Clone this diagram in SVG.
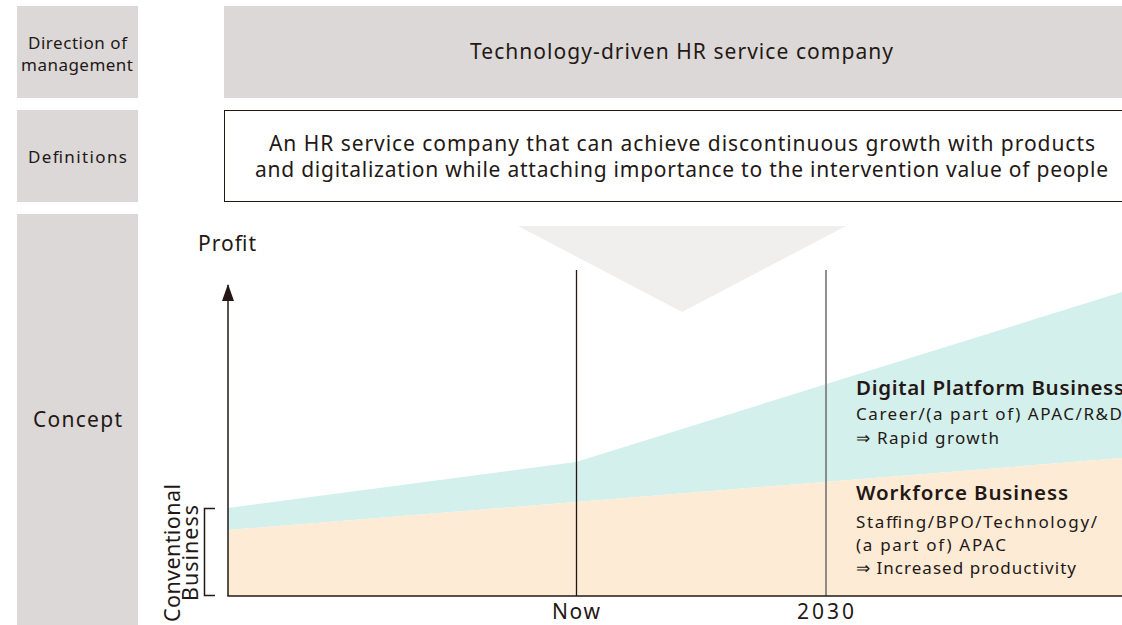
<svg xmlns="http://www.w3.org/2000/svg" width="1122" height="625" viewBox="0 0 1122 625">
<style>
text{font-family:"Noto Sans","Open Sans","Liberation Sans",sans-serif;fill:#231815}
.lab{font-size:17px;text-anchor:middle}
.big{font-size:21px;text-anchor:middle}
.hd{font-size:20.5px;font-weight:600}
.sm{font-size:17px}
.gray{fill:#dcd8d7}
.ax{stroke:#231815;stroke-width:1.5;fill:none}
</style>
<defs>
<marker id="arr" markerWidth="18" markerHeight="12" refX="16" refY="6" orient="auto" markerUnits="userSpaceOnUse">
<path d="M0,0 L17,6 L0,12 Z" fill="#231815"/>
</marker>
</defs>
<g id="row-direction">
<rect class="gray" x="17" y="6" width="121" height="92"/>
<text class="lab" x="77.5" y="49" textLength="99" lengthAdjust="spacing">Direction of</text>
<text class="lab" x="77" y="71" textLength="112" lengthAdjust="spacing">management</text>
<rect class="gray" x="224" y="6" width="898" height="92"/>
<text class="big" x="681.5" y="59" textLength="423" lengthAdjust="spacing">Technology-driven HR service company</text>
</g>
<g id="row-definitions">
<rect class="gray" x="17" y="110" width="121" height="92"/>
<text class="lab" x="77.5" y="163" textLength="99" lengthAdjust="spacing">Definitions</text>
<rect x="224.5" y="110.5" width="898" height="91" fill="#fff" stroke="#231815" stroke-width="1"/>
<text class="big" x="682" y="151" textLength="826" lengthAdjust="spacing">An HR service company that can achieve discontinuous growth with products</text>
<text class="big" x="681.5" y="177" textLength="853" lengthAdjust="spacing">and digitalization while attaching importance to the intervention value of people</text>
</g>
<g id="row-concept">
<rect class="gray" x="17" y="214" width="121" height="411"/>
<text class="big" x="77.5" y="427" textLength="89" lengthAdjust="spacing">Concept</text>
</g>
<g id="chart">
<polygon points="518,226 846,226 682,312" fill="#f0efed"/>
<polygon id="digital" points="228,508 576,462 1122,292 1122,458 228,530" fill="#d3f0ec"/>
<polygon id="workforce" points="228,530 1122,458 1122,596 228,596" fill="#fdebd6"/>
<line x1="576.5" y1="270" x2="576.5" y2="596" stroke="#231815" stroke-width="1.3"/>
<line x1="826" y1="270" x2="826" y2="596" stroke="#6e6a69" stroke-width="1.5"/>
<line class="ax" x1="228" y1="596" x2="228" y2="285" marker-end="url(#arr)"/>
<line class="ax" x1="227.3" y1="596" x2="1122" y2="596"/>
<path class="ax" d="M215,508.5 H204.5 V595.5 H215" stroke-width="1.2"/>
<text style="font-size:21px" x="198" y="251" textLength="58" lengthAdjust="spacing">Profit</text>
<text class="big" x="576" y="619" textLength="48" lengthAdjust="spacing">Now</text>
<text class="big" x="825.5" y="619" textLength="57" lengthAdjust="spacing">2030</text>
<text style="font-size:21.5px" transform="translate(180,553) rotate(-90)" text-anchor="middle" textLength="138" lengthAdjust="spacing">Conventional</text>
<text style="font-size:21.5px" transform="translate(198,553) rotate(-90)" text-anchor="middle" textLength="96" lengthAdjust="spacing">Business</text>
</g>
<g id="digital-label">
<text class="hd" x="856" y="395" textLength="268" lengthAdjust="spacing">Digital Platform Business</text>
<text class="sm" x="856" y="420" textLength="266" lengthAdjust="spacing">Career/(a part of) APAC/R&amp;D</text>
<text class="sm" x="856" y="444" textLength="143" lengthAdjust="spacing">⇒ Rapid growth</text>
</g>
<g id="workforce-label">
<text class="hd" x="856" y="500" textLength="212" lengthAdjust="spacing">Workforce Business</text>
<text class="sm" x="856" y="528" textLength="241" lengthAdjust="spacing">Staffing/BPO/Technology/</text>
<text class="sm" x="856" y="551" textLength="150" lengthAdjust="spacing">(a part of) APAC</text>
<text class="sm" x="856" y="574" textLength="220" lengthAdjust="spacing">⇒ Increased productivity</text>
</g>
</svg>
